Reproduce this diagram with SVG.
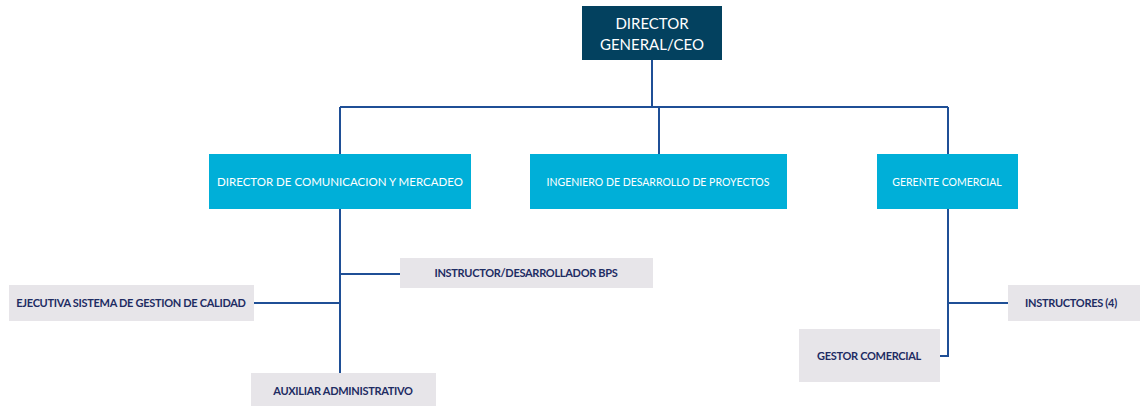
<svg xmlns="http://www.w3.org/2000/svg" width="1140" height="406" viewBox="0 0 1140 406">
<style>
.ceo{fill:#03415f}
.l2{fill:#00afd8}
.l3{fill:#e7e5e9}
.tw{font-family:Lato,"Liberation Sans",sans-serif;fill:#fff;text-anchor:middle}
.tg{font-family:Lato,"Liberation Sans",sans-serif;fill:#1e2c63;text-anchor:middle;font-weight:bold;font-size:11px;letter-spacing:-0.3px}
.c{fill:none;stroke:#1f4f96;stroke-width:2}
</style>
<rect width="1140" height="406" fill="#fff"/>
<g id="connectors">
<path class="c" d="M652 60V107M340 107H948M659 107V155M340 107V375M340 274H400M254 303H340M948 107V356H938M948 303H1008"/>
</g>
<g id="ceo"><rect class="ceo" x="582" y="6" width="140" height="54"/>
<text class="tw" x="652" y="29" font-size="15">DIRECTOR</text>
<text class="tw" x="652" y="50" font-size="15">GENERAL/CEO</text></g>
<g id="dir-com"><rect class="l2" x="209" y="154" width="262" height="55"/>
<text class="tw" x="340" y="186" font-size="11.5">DIRECTOR DE COMUNICACION Y MERCADEO</text></g>
<g id="ing"><rect class="l2" x="530" y="154" width="257" height="55"/>
<text class="tw" x="658" y="186" font-size="10.5">INGENIERO DE DESARROLLO DE PROYECTOS</text></g>
<g id="gerente"><rect class="l2" x="877" y="154" width="141" height="55"/>
<text class="tw" x="947" y="186" font-size="10.5">GERENTE COMERCIAL</text></g>
<g id="instructor-bps"><rect class="l3" x="400" y="258" width="253" height="30"/>
<text class="tg" x="526" y="277">INSTRUCTOR/DESARROLLADOR BPS</text></g>
<g id="ejecutiva"><rect class="l3" x="9" y="285" width="245" height="36"/>
<text class="tg" x="131" y="307">EJECUTIVA SISTEMA DE GESTION DE CALIDAD</text></g>
<g id="auxiliar"><rect class="l3" x="251" y="373" width="185" height="33"/>
<text class="tg" x="343" y="395">AUXILIAR ADMINISTRATIVO</text></g>
<g id="instructores"><rect class="l3" x="1008" y="285" width="132" height="36"/>
<text class="tg" x="1071" y="307">INSTRUCTORES (4)</text></g>
<g id="gestor"><rect class="l3" x="799" y="329" width="141" height="53"/>
<text class="tg" x="869" y="360">GESTOR COMERCIAL</text></g>
</svg>
